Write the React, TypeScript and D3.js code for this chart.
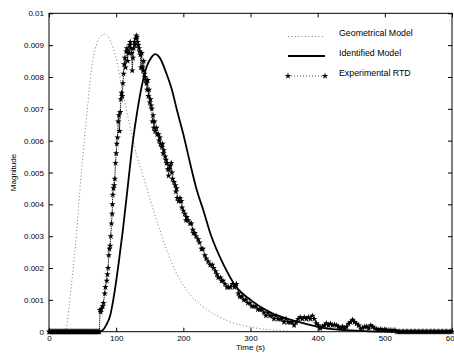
import * as d3 from 'd3';
import { useEffect, useRef } from 'react';

// geometrical model (dotted grey curve)
const geoTime = [22, 26, 30, 34, 38, 41, 47, 53, 58, 65, 72, 78, 84, 92, 101, 108, 115, 123, 131, 140, 150, 165, 184, 205, 235, 265, 299, 340, 380];
const geoValue = [0, 0.00016, 0.0008, 0.0016, 0.0024, 0.0031, 0.0047, 0.0061, 0.0072, 0.0085, 0.0091, 0.0093, 0.00935, 0.0091, 0.0085, 0.0077, 0.007, 0.0062, 0.0055, 0.0049, 0.0042, 0.0032, 0.0021, 0.0013, 0.0007, 0.00035, 0.00015, 0.00004, 0];

// identified model (thick black curve)
const idTime = [75, 80, 85, 91, 98, 104, 110, 118, 125, 132, 138, 145, 152, 158, 165, 175, 183, 190, 200, 210, 220, 230, 240, 260, 279, 300, 330, 373, 408, 450, 500, 600];
const idValue = [0, 0.00005, 0.0002, 0.0005, 0.0013, 0.0022, 0.0032, 0.0047, 0.006, 0.007, 0.0077, 0.0083, 0.0086, 0.00872, 0.0086, 0.0081, 0.0076, 0.0070, 0.0062, 0.0053, 0.00445, 0.0038, 0.0031, 0.0021, 0.0014, 0.001, 0.0006, 0.0003, 0.00012, 0.00004, 0, 0];

// experimental RTD (stars)
const expTime = [
  0, 1, 2, 3, 4, 5, 6, 7, 8, 9, 10, 11, 12, 13, 14, 15, 16, 17, 18, 19, 20, 21, 22, 23, 24, 25, 26, 27, 28, 29, 30, 31, 32, 33, 34, 35, 36, 37,
  38, 39, 40, 41, 42, 43, 44, 45, 46, 47, 48, 49, 50, 51, 52, 53, 54, 55, 56, 57, 58, 59, 60, 61, 62, 63, 64, 65, 66, 67, 68, 69, 70, 71, 72, 73, 74, 75,
  76, 77, 78, 80, 81, 83, 84, 86, 87, 88, 89, 90, 91, 92, 93, 94, 94.5, 95, 96, 97, 98, 99, 100, 101, 102, 103, 104, 105, 106, 107, 108, 109,
  110, 111, 112, 113, 114, 115, 116, 117, 118, 119, 120, 121, 122, 123, 124, 125, 126, 127, 128, 129, 130, 131, 132, 133, 134, 135, 136, 137, 138, 139,
  140, 141, 142, 143, 144, 145, 146, 147, 148, 149, 150, 151, 152, 153, 154, 155, 156, 157, 158, 160, 161, 163, 164, 165, 166, 168, 169,
  170, 171, 173, 174, 175, 176, 177, 178, 179, 180, 182, 183, 184, 186, 188, 189, 190, 191, 193, 195, 197, 198, 200, 202, 204, 205, 207, 210,
  212, 214, 215, 217, 219, 222, 224, 227, 229, 232, 234, 237, 240, 243, 245, 248, 250, 252, 255, 257, 259, 262, 265, 267, 270, 273, 276, 279,
  282, 284, 287, 290, 293, 296, 299, 302, 305, 308, 311, 314, 317, 320, 323, 326, 329, 332, 335, 338, 341, 344, 347, 350, 353, 356, 359, 362,
  365, 368, 371, 374, 377, 380, 383, 386, 389, 392, 395, 398, 401, 404, 407, 410, 413, 416, 419, 422, 425, 428, 431, 434, 437, 440, 443, 446,
  449, 452, 455, 458, 461, 464, 467, 470, 473, 476, 479, 482, 485, 488, 491, 494, 497, 500, 503, 506, 509, 512, 515, 518,
  520, 522, 524, 526, 528, 530, 532, 534, 536, 538, 540, 542, 544, 546, 548, 550, 552, 554, 556, 558, 560, 562, 564, 566, 568, 570, 572, 574,
  576, 578, 580, 582, 584, 586, 588, 590, 592, 594, 596, 598, 600,
];
const expValue = [
  0, 0, 0, 0, 0, 0, 0, 0, 0, 0, 0, 0, 0, 0, 0, 0, 0, 0, 0, 0, 0, 0, 0, 0, 0, 0, 0, 0, 0, 0, 0, 0, 0, 0, 0, 0, 0, 0,
  0, 0, 0, 0, 0, 0, 0, 0, 0, 0, 0, 0, 0, 0, 0, 0, 0, 0, 0, 0, 0, 0, 0, 0, 0, 0, 0, 0, 0, 0, 0, 0, 0, 0, 0, 0, 0, 0,
  0.00068, 0.00062, 0.00072, 0.0008, 0.0009, 0.0012, 0.0014, 0.0016, 0.0018, 0.002, 0.0024, 0.0026, 0.0027, 0.003, 0.0034, 0.0037, 0.004, 0.0043, 0.0045, 0.0046, 0.0048, 0.0053, 0.0056, 0.0059, 0.0061, 0.0066, 0.0068, 0.0063, 0.0069, 0.0073, 0.0075, 0.0074,
  0.0078, 0.0081, 0.0084, 0.0086, 0.0083, 0.0088, 0.0089, 0.0085, 0.0088, 0.00875, 0.009, 0.0091, 0.0089, 0.00875, 0.0082, 0.0086, 0.0089, 0.0091, 0.009, 0.0092, 0.0093, 0.00925, 0.0091, 0.009, 0.0089, 0.0088, 0.0087, 0.0083, 0.00875, 0.0083,
  0.0082, 0.0085, 0.0081, 0.008, 0.0079, 0.0078, 0.0076, 0.0079, 0.0074, 0.0076, 0.0072, 0.0073, 0.0071, 0.007, 0.0066, 0.0068, 0.0064, 0.0066, 0.0063, 0.0064, 0.0062, 0.0062, 0.006, 0.0061, 0.0059, 0.0058, 0.0059,
  0.0056, 0.0057, 0.0055, 0.0054, 0.0053, 0.0053, 0.0051, 0.0049, 0.0051, 0.0052, 0.0053, 0.005, 0.0048, 0.0047, 0.0046, 0.0044, 0.0045, 0.0042, 0.0041, 0.0042, 0.0041, 0.0039, 0.0038, 0.0037, 0.0035, 0.0036, 0.0035, 0.0034,
  0.0034, 0.0032, 0.0031, 0.0031, 0.003, 0.0029, 0.0028, 0.0026, 0.0026, 0.0024, 0.0023, 0.0022, 0.0021, 0.0021, 0.002, 0.0019, 0.0018, 0.0017, 0.0017, 0.0016, 0.0016, 0.0015, 0.0014, 0.0014, 0.0014, 0.0015, 0.0014, 0.0015,
  0.0012, 0.0011, 0.0011, 0.001, 0.001, 0.0009, 0.0009, 0.0008, 0.0008, 0.0008, 0.0007, 0.0007, 0.0007, 0.0006, 0.0005, 0.0006, 0.0005, 0.0005, 0.0004, 0.0005, 0.0004, 0.0004, 0.0004, 0.0003, 0.0004, 0.0003, 0.0003, 0.0003,
  0.0002, 0.0003, 0.0004, 0.00045, 0.0004, 0.00045, 0.0004, 0.00045, 0.0004, 0.0005, 0.0004, 0.00026, 0.0002, 0.0001, 0.00016, 0.0002, 0.00026, 0.0002, 0.00025, 0.0002, 0.00022, 0.0002, 0.00015, 0.0001, 0.00016, 0.0001, 0.00015, 0.00025,
  0.0003, 0.00037, 0.0003, 0.00025, 0.0002, 0.0001, 0.00012, 0.00015, 0.00016, 0.0001, 0.0002, 0.00015, 0.0001, 0.00008, 0.00006, 0.00008, 0.00005, 0.00007, 0.00005, 0.00004, 0.00005, 0.00003, 0.00005, 0,
  0, 0, 0, 0, 0, 0, 0, 0, 0, 0, 0, 0, 0, 0, 0, 0, 0, 0, 0, 0, 0, 0, 0, 0, 0, 0, 0, 0,
  0, 0, 0, 0, 0, 0, 0, 0, 0, 0, 0, 0, 0,
];

const xTicks = [0, 100, 200, 300, 400, 500, 600];
const xTickLabels = ['0', '100', '200', '300', '400', '500', '600'];
const yTicks = [0, 0.001, 0.002, 0.003, 0.004, 0.005, 0.006, 0.007, 0.008, 0.009, 0.01];
const yTickLabels = ['0', '0.001', '0.002', '0.003', '0.004', '0.005', '0.006', '0.007', '0.008', '0.009', '0.01'];
const legendLabels = ['Geometrical Model', 'Identified Model', 'Experimental RTD'];

const App = () => {
  const svgRef = useRef<SVGSVGElement>(null);

  useEffect(() => {
    const width = 454;
    const height = 353;
    const left = 49;
    const right = 452;
    const top = 13.3;
    const bottom = 331.7;
    const font = 'Arial, "Liberation Sans", sans-serif';

    const x = d3.scaleLinear([0, 600], [left, right]);
    const y = d3.scaleLinear([0, 0.01], [bottom, top]);

    const svg = d3.select(svgRef.current);
    svg.selectAll('*').remove();
    svg.attr('width', width).attr('height', height);

    const plot = svg.append('g');

    // geometrical model
    const geoLine = d3.line<number>()
      .curve(d3.curveMonotoneX)
      .x((i) => x(geoTime[i]))
      .y((i) => y(geoValue[i]));
    plot.append('path')
      .attr('fill', 'none')
      .attr('stroke', '#666')
      .attr('stroke-width', 0.9)
      .attr('stroke-dasharray', '1,2.4')
      .attr('d', geoLine(d3.range(geoTime.length)));

    // experimental data line + stars
    const expLine = d3.line<number>()
      .x((i) => x(expTime[i]))
      .y((i) => y(expValue[i]));
    plot.append('path')
      .attr('fill', 'none')
      .attr('stroke', '#111')
      .attr('stroke-width', 0.9)
      .attr('stroke-dasharray', '1.5,0.6')
      .attr('d', expLine(d3.range(expTime.length)));

    const star = d3.symbol().type(d3.symbolStar).size(13);
    plot.append('g')
      .selectAll('path')
      .data(d3.range(expTime.length))
      .join('path')
      .attr('transform', (i) => `translate(${x(expTime[i])},${y(expValue[i])})`)
      .attr('d', star() as string)
      .attr('fill', '#000');

    // identified model
    const idLine = d3.line<number>()
      .curve(d3.curveMonotoneX)
      .x((i) => x(idTime[i]))
      .y((i) => y(idValue[i]));
    plot.append('path')
      .attr('fill', 'none')
      .attr('stroke', '#000')
      .attr('stroke-width', 1.8)
      .attr('d', idLine(d3.range(idTime.length)));

    // axes
    const styleAxis = (g: any) => {
      g.select('.domain').remove();
      g.selectAll('.tick line').attr('stroke', '#000');
      g.selectAll('.tick text')
        .attr('font-size', 8)
        .attr('font-family', font)
        .attr('fill', '#000');
    };

    svg.append('g')
      .attr('transform', `translate(0,${bottom})`)
      .call(d3.axisBottom(x).tickValues(xTicks).tickFormat((_, i) => xTickLabels[i]).tickSize(-4).tickPadding(4))
      .call(styleAxis);
    svg.append('g')
      .attr('transform', `translate(0,${top})`)
      .call(d3.axisTop(x).tickValues(xTicks).tickFormat(() => '').tickSize(-4))
      .call(styleAxis);
    svg.append('g')
      .attr('transform', `translate(${left},0)`)
      .call(d3.axisLeft(y).tickValues(yTicks).tickFormat((_, i) => yTickLabels[i]).tickSize(-4).tickPadding(5))
      .call(styleAxis);
    svg.append('g')
      .attr('transform', `translate(${right},0)`)
      .call(d3.axisRight(y).tickValues(yTicks).tickFormat(() => '').tickSize(-4))
      .call(styleAxis);

    // frame
    svg.append('rect')
      .attr('x', left)
      .attr('y', top)
      .attr('width', right - left)
      .attr('height', bottom - top)
      .attr('fill', 'none')
      .attr('stroke', '#000')
      .attr('stroke-width', 1);

    // axis titles
    svg.append('text')
      .attr('x', (left + right) / 2)
      .attr('y', 350)
      .attr('text-anchor', 'middle')
      .attr('font-size', 8)
      .attr('font-family', font)
      .text('Time (s)');
    svg.append('text')
      .attr('transform', `translate(16,${(top + bottom) / 2}) rotate(-90)`)
      .attr('text-anchor', 'middle')
      .attr('font-size', 8)
      .attr('font-family', font)
      .text('Magnitude');

    // legend
    const legendY = [36.5, 56, 76];
    const lx0 = 288;
    const lx1 = 325;
    const legend = svg.append('g');
    legend.append('line')
      .attr('x1', lx0).attr('x2', lx1).attr('y1', legendY[0]).attr('y2', legendY[0])
      .attr('stroke', '#666').attr('stroke-width', 0.9).attr('stroke-dasharray', '1,2.4');
    legend.append('line')
      .attr('x1', lx0).attr('x2', lx1).attr('y1', legendY[1]).attr('y2', legendY[1])
      .attr('stroke', '#000').attr('stroke-width', 1.8);
    legend.append('line')
      .attr('x1', lx0).attr('x2', lx1).attr('y1', legendY[2]).attr('y2', legendY[2])
      .attr('stroke', '#222').attr('stroke-width', 0.8).attr('stroke-dasharray', '1,2');
    [lx0, lx1].forEach((lx) => {
      legend.append('path')
        .attr('transform', `translate(${lx},${legendY[2]})`)
        .attr('d', star() as string)
        .attr('fill', '#000');
    });
    legendLabels.forEach((label, i) => {
      legend.append('text')
        .attr('x', 339)
        .attr('y', legendY[i] - 0.5)
        .attr('font-size', 8.8)
        .attr('font-family', font)
        .text(label);
    });
  }, []);

  return (
    <div style={{ position: 'absolute', left: 0, top: 0 }}>
      <svg ref={svgRef} style={{ display: 'block' }} />
    </div>
  );
};

export default App;
